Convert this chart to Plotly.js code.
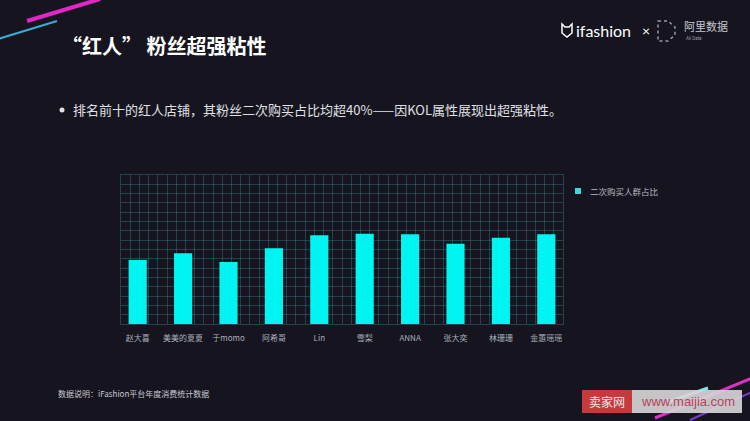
<!DOCTYPE html>
<html>
<head>
<meta charset="utf-8">
<script src="https://cdn.plot.ly/plotly-3.0.1.min.js"></script>
<style>
  html, body { margin: 0; padding: 0; background: #16151f; }
  #chart { width: 750px; height: 421px; }
</style>
</head>
<body>
<div id="chart"></div>
<script>
// shops ranked top 10 and their share of repeat buyers (%)
let shops = ['赵大喜', '美美的夏夏', '于momo', '阿希哥', 'Lin', '雪梨', 'ANNA', '张大奕', '林珊珊', '金蕙瑶瑶'];
let repeatShare = [43.0, 47.4, 41.6, 50.8, 59.5, 60.6, 60.2, 53.9, 57.9, 60.2];
let seriesName = '二次购买人群占比';

let W = 750, H = 421;
function px(x) { return x / W; }
function py(y) { return 1 - y / H; }

let gridColor = 'rgba(60,140,150,0.38)';
let barColor = '#00f5f2';
let cjk = '"Noto Sans CJK SC", "Noto Sans", sans-serif';

let data = [{
    // empty trace so the grid subplot gets drawn under the bars
    type: 'scatter',
    x: [],
    y: [],
    xaxis: 'x',
    yaxis: 'y',
    showlegend: false,
    hoverinfo: 'skip'
}, {
    type: 'bar',
    name: seriesName,
    x: shops,
    y: repeatShare,
    xaxis: 'x2',
    yaxis: 'y2',
    width: 0.4,
    showlegend: false,
    marker: {color: barColor, line: {width: 0}}
}];

let plotTop = 175, plotBottom = 324;

let layout = {
    width: W,
    height: H,
    margin: {l: 0, r: 0, t: 0, b: 0},
    paper_bgcolor: '#16151f',
    plot_bgcolor: 'rgba(0,0,0,0)',
    font: {family: cjk, color: '#b8b8c0'},
    showlegend: false,
    // grid subplot
    xaxis: {
        domain: [px(121), px(563)],
        range: [0, 48],
        dtick: 1,
        showgrid: true,
        gridcolor: gridColor,
        gridwidth: 1,
        zeroline: false,
        showticklabels: false,
        ticks: '',
        showline: true,
        mirror: true,
        linecolor: gridColor,
        anchor: 'y',
        fixedrange: true
    },
    yaxis: {
        domain: [py(plotBottom), py(plotTop)],
        range: [0, 16],
        dtick: 1,
        showgrid: true,
        gridcolor: gridColor,
        gridwidth: 1,
        zeroline: false,
        showticklabels: false,
        ticks: '',
        showline: true,
        mirror: true,
        linecolor: gridColor,
        anchor: 'x',
        fixedrange: true
    },
    // bar subplot
    xaxis2: {
        domain: [px(115), px(569)],
        type: 'category',
        range: [-0.5, 9.5],
        anchor: 'y2',
        showgrid: false,
        zeroline: false,
        showline: false,
        ticks: '',
        ticklabelstandoff: 8,
        tickfont: {size: 8, color: '#a9b0ba', family: cjk}
    },
    yaxis2: {
        domain: [py(plotBottom), py(plotTop)],
        range: [0, 100],
        anchor: 'x2',
        visible: false,
        showgrid: false
    },
    shapes: [
        // bullet dot
        {type: 'circle', xref: 'paper', yref: 'paper', x0: px(59.5), y0: py(107.5), x1: px(64.5), y1: py(112.5),
         fillcolor: '#e0e0e6', line: {width: 0}},
        // legend swatch
        {type: 'rect', xref: 'paper', yref: 'paper', x0: px(575), y0: py(188), x1: px(581), y1: py(194),
         fillcolor: '#3fd6e0', line: {width: 0}},
        // top-left decorative strokes
        {type: 'line', xref: 'paper', yref: 'paper', x0: px(27), y0: py(21), x1: px(100), y1: py(-1),
         line: {color: '#e126c6', width: 4}},
        {type: 'line', xref: 'paper', yref: 'paper', x0: px(-2), y0: py(39), x1: px(57), y1: py(21),
         line: {color: '#3aa8d8', width: 2}},
        // bottom-right decorative strokes
        {type: 'line', xref: 'paper', yref: 'paper', x0: px(655), y0: py(418), x1: px(752), y1: py(378),
         line: {color: '#d832c8', width: 3}},
        {type: 'line', xref: 'paper', yref: 'paper', x0: px(690), y0: py(420), x1: px(752), y1: py(392),
         line: {color: '#7a3cc8', width: 2}},
        {type: 'line', xref: 'paper', yref: 'paper', x0: px(668), y0: py(402), x1: px(708), y1: py(388),
         line: {color: '#7ae8e8', width: 3}},
        // watermark boxes
        {type: 'rect', xref: 'paper', yref: 'paper', x0: px(582), y0: py(390), x1: px(632), y1: py(413),
         fillcolor: '#c33b3d', line: {width: 0}},
        {type: 'rect', xref: 'paper', yref: 'paper', x0: px(632), y0: py(390), x1: px(742), y1: py(413),
         fillcolor: 'rgba(215,212,215,0.92)', line: {width: 0}},
        // logo: cat head
        {type: 'path', xref: 'paper', yref: 'paper',
         path: 'M ' + px(562) + ',' + py(24) + ' L ' + px(565) + ',' + py(27) + ' L ' + px(569) + ',' + py(27) +
               ' L ' + px(572) + ',' + py(24) + ' L ' + px(572) + ',' + py(33) + ' L ' + px(567) + ',' + py(37) +
               ' L ' + px(562) + ',' + py(33) + ' Z',
         line: {color: '#ffffff', width: 1.5}},
        // logo: dotted D
        {type: 'path', xref: 'paper', yref: 'paper',
         path: 'M ' + px(658) + ',' + py(21) + ' L ' + px(668) + ',' + py(21) + ' L ' + px(675) + ',' + py(27) +
               ' L ' + px(675) + ',' + py(35) + ' L ' + px(668) + ',' + py(41) + ' L ' + px(658) + ',' + py(41) + ' Z',
         line: {color: '#9a9aa8', width: 1.5, dash: 'dot'}}
    ],
    annotations: [
        {text: '<b>“红人” 粉丝超强粘性</b>', xref: 'paper', yref: 'paper', x: px(60), y: py(45),
         xanchor: 'left', yanchor: 'middle', showarrow: false,
         font: {size: 20, color: '#ffffff', family: cjk}},
        {text: '排名前十的红人店铺，其粉丝二次购买占比均超40%——因KOL属性展现出超强粘性。',
         xref: 'paper', yref: 'paper', x: px(71), y: py(110),
         xanchor: 'left', yanchor: 'middle', showarrow: false,
         font: {size: 13, color: '#e0e0e6', family: cjk}},
        {text: seriesName, xref: 'paper', yref: 'paper', x: px(588), y: py(191),
         xanchor: 'left', yanchor: 'middle', showarrow: false,
         font: {size: 8.5, color: '#b8b8c0', family: cjk}},
        {text: '数据说明：iFashion平台年度消费统计数据', xref: 'paper', yref: 'paper', x: px(56), y: py(393),
         xanchor: 'left', yanchor: 'middle', showarrow: false,
         font: {size: 8, color: '#c8c8d0', family: cjk}},
        // logo text
        {text: 'ifashion', xref: 'paper', yref: 'paper', x: px(574), y: py(30),
         xanchor: 'left', yanchor: 'middle', showarrow: false,
         font: {size: 16, color: '#ffffff', family: 'Lato, "Noto Sans", sans-serif'}},
        {text: '×', xref: 'paper', yref: 'paper', x: px(640), y: py(30),
         xanchor: 'left', yanchor: 'middle', showarrow: false,
         font: {size: 14, color: '#ffffff', family: 'Lato, sans-serif'}},
        {text: '阿里数据', xref: 'paper', yref: 'paper', x: px(682), y: py(26),
         xanchor: 'left', yanchor: 'middle', showarrow: false,
         font: {size: 11, color: '#c8c8d0', family: cjk}},
        {text: 'Ali Data', xref: 'paper', yref: 'paper', x: px(684), y: py(39),
         xanchor: 'left', yanchor: 'middle', showarrow: false,
         font: {size: 4.5, color: '#9a9aa8', family: 'Roboto, sans-serif'}},
        // watermark text
        {text: '卖家网', xref: 'paper', yref: 'paper', x: px(607), y: py(401.5),
         xanchor: 'center', yanchor: 'middle', showarrow: false,
         font: {size: 12, color: '#f4e6e6', family: cjk}},
        {text: 'www.maijia.com', xref: 'paper', yref: 'paper', x: px(688), y: py(401.5),
         xanchor: 'center', yanchor: 'middle', showarrow: false,
         font: {size: 13, color: '#b3445a', family: '"Liberation Sans", Arial, sans-serif'}}
    ]
};

Plotly.newPlot(document.getElementById('chart'), data, layout, {displayModeBar: false, staticPlot: true});
</script>
</body>
</html>
